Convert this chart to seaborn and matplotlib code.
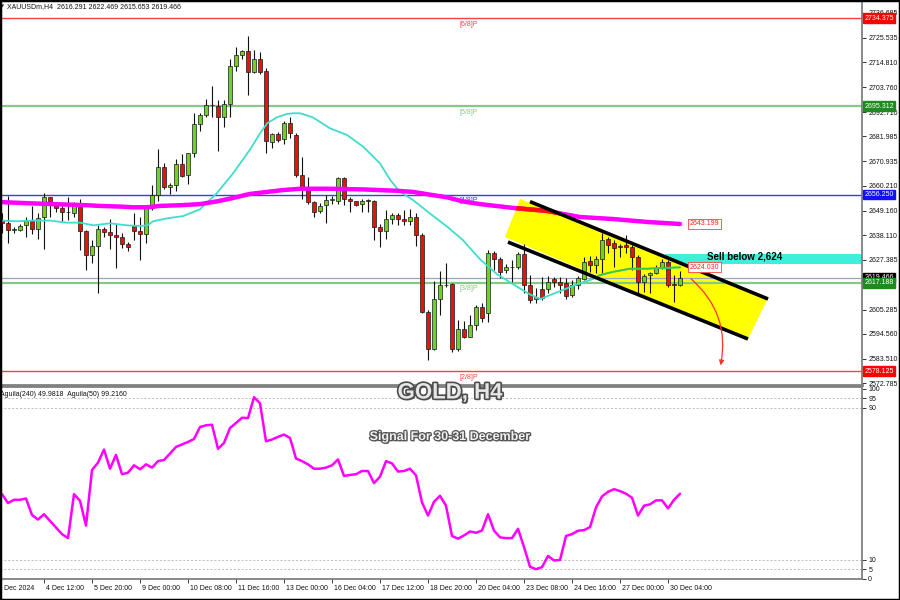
import numpy as np
import pandas as pd
import seaborn as sns
import matplotlib.pyplot as plt
import matplotlib.patheffects as pe
import matplotlib.transforms as mtransforms
from matplotlib.patches import Polygon, Rectangle, FancyArrowPatch

# H4 candles (bar 0 = leftmost visible bar)
opens = [2645.0, 2643.5, 2640.5, 2640.5, 2642.6, 2644.7, 2640.8, 2646.1, 2655.0, 2651.8,
         2650.3, 2648.5, 2648.2, 2651.8, 2639.9, 2629.6, 2633.5, 2640.8, 2639.6, 2638.5,
         2637.3, 2634.3, 2642.6, 2639.9, 2638.8, 2650.3, 2655.9, 2668.3, 2659.7, 2660.3,
         2669.8, 2664.7, 2674.5, 2687.5, 2691.6, 2695.7, 2695.4, 2690.4, 2696.3, 2713.1,
         2717.8, 2719.9, 2710.5, 2716.1, 2711.1, 2679.5, 2683.0, 2680.7, 2687.8, 2682.7,
         2664.7, 2659.4, 2652.9, 2649.1, 2651.5, 2653.8, 2653.2, 2663.5, 2654.1, 2653.2,
         2652.0, 2653.5, 2653.5, 2642.0, 2639.9, 2645.2, 2647.0, 2645.5, 2644.4, 2646.1,
         2638.2, 2604.2, 2588.0, 2610.1, 2616.0, 2616.6, 2588.0, 2596.6, 2593.3, 2598.3,
         2606.3, 2603.7, 2630.2, 2627.5, 2622.8, 2624.0, 2624.0, 2629.9, 2616.0, 2609.8,
         2614.6, 2614.6, 2619.0, 2617.5, 2616.9, 2611.6, 2616.0, 2619.0, 2626.7, 2624.9,
         2627.8, 2636.4, 2634.9, 2633.2, 2633.9, 2633.2, 2628.4, 2617.7, 2620.6, 2621.6,
         2623.7, 2626.4, 2616.6, 2616.291]
highs = [2647.9, 2655.6, 2642.0, 2643.2, 2646.4, 2651.2, 2647.9, 2657.1, 2655.3, 2652.9,
         2651.2, 2655.3, 2653.1, 2654.1, 2640.5, 2636.1, 2642.6, 2642.0, 2645.2, 2643.2,
         2639.1, 2635.2, 2647.9, 2646.1, 2650.9, 2660.3, 2676.2, 2670.3, 2661.5, 2671.8,
         2674.2, 2674.8, 2692.2, 2692.5, 2698.7, 2704.3, 2698.1, 2698.1, 2716.1, 2721.4,
         2720.2, 2726.4, 2720.2, 2719.3, 2712.1, 2683.3, 2683.9, 2688.6, 2690.4, 2683.3,
         2673.0, 2664.1, 2653.2, 2652.3, 2655.9, 2655.6, 2664.1, 2664.1, 2655.0, 2653.4,
         2654.4, 2654.1, 2653.8, 2643.2, 2649.4, 2647.9, 2647.9, 2649.4, 2649.7, 2647.9,
         2639.1, 2605.1, 2617.8, 2622.5, 2626.1, 2616.9, 2600.7, 2600.1, 2603.1, 2607.2,
         2608.1, 2631.7, 2631.4, 2628.7, 2625.5, 2627.2, 2630.9, 2634.3, 2620.5, 2614.7,
         2619.6, 2620.2, 2619.6, 2619.6, 2619.3, 2618.4, 2620.2, 2628.7, 2629.0, 2629.0,
         2639.1, 2637.6, 2636.1, 2634.3, 2638.3, 2633.9, 2629.3, 2621.1, 2621.9, 2625.0,
         2627.8, 2627.2, 2620.6, 2622.469]
lows = [2639.1, 2634.9, 2639.1, 2639.9, 2637.6, 2638.8, 2636.4, 2632.0, 2646.4, 2648.5,
        2644.4, 2645.0, 2646.4, 2631.7, 2622.8, 2625.8, 2612.5, 2637.6, 2632.3, 2623.6,
        2632.6, 2631.4, 2636.1, 2627.3, 2634.6, 2649.4, 2653.2, 2658.5, 2656.5, 2657.9,
        2664.1, 2660.9, 2673.0, 2684.5, 2690.7, 2690.4, 2675.4, 2686.3, 2690.4, 2710.8,
        2716.1, 2700.1, 2709.9, 2709.6, 2674.8, 2676.7, 2679.5, 2678.6, 2681.3, 2664.1,
        2654.1, 2652.0, 2646.1, 2647.9, 2643.5, 2652.0, 2652.0, 2651.5, 2648.5, 2651.2,
        2648.5, 2648.5, 2636.1, 2632.9, 2636.4, 2643.2, 2642.9, 2642.6, 2642.6, 2633.5,
        2603.6, 2583.0, 2587.4, 2603.1, 2615.5, 2586.5, 2586.8, 2592.7, 2593.0, 2596.3,
        2600.0, 2599.9, 2622.8, 2619.1, 2621.3, 2617.7, 2623.1, 2612.5, 2608.4, 2608.1,
        2609.5, 2612.8, 2615.5, 2612.5, 2609.8, 2611.0, 2614.6, 2618.4, 2621.9, 2621.6,
        2621.3, 2630.2, 2624.3, 2628.7, 2630.2, 2622.8, 2612.5, 2613.2, 2612.5, 2621.1,
        2623.4, 2615.5, 2608.8, 2615.653]
closes = [2643.5, 2640.5, 2640.6, 2642.3, 2644.7, 2641.1, 2645.8, 2655.0, 2651.8, 2650.3,
          2648.5, 2648.3, 2651.5, 2639.9, 2629.6, 2633.5, 2640.8, 2639.6, 2638.2, 2637.3,
          2634.3, 2632.9, 2639.9, 2638.8, 2650.3, 2655.9, 2668.3, 2659.7, 2660.3, 2669.8,
          2664.4, 2674.5, 2687.5, 2691.6, 2695.7, 2695.9, 2690.4, 2696.3, 2713.1, 2717.8,
          2719.9, 2710.5, 2716.1, 2710.5, 2679.8, 2683.0, 2680.4, 2688.0, 2683.6, 2664.7,
          2659.4, 2652.9, 2648.5, 2651.2, 2653.8, 2654.0, 2663.5, 2654.1, 2653.2, 2651.8,
          2653.5, 2653.3, 2642.0, 2639.9, 2645.2, 2647.3, 2645.5, 2644.4, 2646.1, 2638.2,
          2604.2, 2587.7, 2610.1, 2616.0, 2616.2, 2587.7, 2596.6, 2593.0, 2598.3, 2606.3,
          2601.5, 2630.2, 2627.5, 2622.1, 2624.0, 2624.2, 2629.9, 2616.2, 2609.5, 2611.0,
          2610.4, 2617.5, 2617.5, 2616.3, 2611.3, 2616.0, 2619.3, 2626.5, 2624.9, 2627.8,
          2636.1, 2633.9, 2632.4, 2633.0, 2632.9, 2628.7, 2617.7, 2620.2, 2621.6, 2623.7,
          2626.4, 2616.2, 2616.4, 2619.466]

# oscillator in the lower pane, one value per bar
aguila = [44.5, 39.8, 41.5, 41.5, 42.2, 33.5, 31.1, 33.9, 30.4, 26.9,
          23.4, 21.3, 44.5, 41.0, 27.9, 57.2, 61.1, 68.0, 57.9, 65.2,
          55.0, 55.8, 59.7, 57.6, 60.2, 58.5, 61.9, 62.5, 65.9, 69.4,
          70.7, 72.0, 73.6, 79.9, 80.8, 81.1, 68.4, 71.5, 79.4, 82.0,
          84.8, 84.6, 95.6, 92.4, 72.4, 73.3, 74.7, 75.9, 74.1, 63.3,
          61.9, 60.2, 57.9, 57.9, 58.5, 59.7, 62.8, 54.1, 54.6, 55.0,
          56.7, 56.7, 50.3, 53.7, 61.9, 60.7, 56.4, 56.7, 57.9, 54.4,
          40.1, 33.2, 40.5, 43.6, 38.4, 22.4, 21.0, 22.7, 24.8, 24.1,
          25.3, 33.9, 25.3, 21.7, 21.3, 21.3, 26.2, 16.6, 6.2, 4.9,
          6.0, 11.9, 9.5, 9.8, 22.4, 23.4, 25.2, 25.5, 27.1, 37.5,
          43.3, 45.7, 47.1, 46.1, 44.7, 42.6, 33.2, 38.4, 39.1, 41.2,
          41.2, 37.0, 41.5, 44.7]

# moving averages, points (x in bars)
fast_ma_x = [-0.33, 2.5, 5.2, 8, 10.8, 13, 15.2, 18, 20.8, 23, 24.2, 25.2, 27.5, 30.2, 33,
             35.8, 38.5, 41.3, 43, 44.2, 45.8, 47.5, 48.5, 49.7, 51.8, 54.7, 57.5, 60.2, 63,
             64.7, 66.3, 68.5, 71.3, 74.2, 76.8, 79.7, 82.5, 85.2, 88, 89.7, 93.5, 96.3, 98.5,
             99.7, 101.8, 104.7, 107.5, 109.7, 113]
fast_ma_y = [2644.7, 2644.4, 2644.7, 2644.7, 2643.8, 2643.8, 2642.6, 2643.5, 2642.6, 2642.3,
             2642.6, 2644.4, 2645.7, 2646.7, 2649.7, 2656.8, 2665.6, 2676.0, 2683.3, 2687.8,
             2690.4, 2691.9, 2692.2, 2692.2, 2690.4, 2685.5, 2682.6, 2677.4, 2670.0, 2662.7,
             2657.5, 2653.8, 2647.9, 2642.0, 2636.1, 2627.5, 2621.0, 2616.5, 2612.0, 2610.0,
             2614.0, 2617.0, 2618.8, 2620.6, 2622.0, 2623.4, 2623.4, 2623.7, 2624.0]
slow_ma_x = [-0.33, 5.2, 10.8, 14.2, 16.3, 19.7, 21.8, 24.2, 26.3, 29.7, 33, 35.8, 38.5, 41.3,
             44.2, 46.8, 49.7, 54.7, 60.2, 63, 65.8, 68.5, 71.3, 74.2, 76.8, 79.7, 85.2, 90.8,
             96.3, 101.8, 107.5, 113]
slow_ma_y = [2652.9, 2652.3, 2651.8, 2651.5, 2651.2, 2650.9, 2650.6, 2650.6, 2651.2, 2651.5,
             2652.0, 2653.2, 2654.7, 2656.5, 2657.4, 2658.2, 2658.8, 2658.8, 2658.5, 2658.2,
             2657.9, 2657.4, 2656.2, 2655.0, 2653.2, 2652.0, 2650.3, 2649.0, 2646.3, 2645.4,
             2644.1, 2643.2]

# Murrey math levels
murrey_levels = [2734.375, 2695.312, 2656.25, 2617.188, 2578.125]
murrey_names = ["[6/8]P", "[5/8]P", "[4/8]P", "[3/8]P", "[2/8]P"]
murrey_colors = ["#ff4040", "#86c886", "#3a3aff", "#86c886", "#ff4040"]
murrey_box = ["#ff0000", "#1f8a1f", "#1010ff", "#1f8a1f", "#ff0000"]
bid_price = 2619.466

price_ticks = [2736.685, 2725.535, 2714.810, 2703.760, 2692.710, 2681.985, 2670.935, 2660.210,
               2649.160, 2638.110, 2627.385, 2616.360, 2605.285, 2594.560, 2583.510, 2572.785]
hidden_ticks = [2616.360]  # covered by the price tags in the reference
osc_ticks = [0, 5, 10, 90, 95, 100]

time_pos = [-1, 7, 15, 23, 31, 39, 47, 55, 63, 71, 79, 87, 95, 103, 111]
time_labels = ["3 Dec 2024", "4 Dec 12:00", "5 Dec 20:00", "9 Dec 00:00", "10 Dec 08:00",
               "11 Dec 16:00", "13 Dec 00:00", "16 Dec 04:00", "17 Dec 12:00", "18 Dec 20:00",
               "20 Dec 04:00", "23 Dec 08:00", "24 Dec 16:00", "27 Dec 00:00", "30 Dec 04:00"]

# hand-drawn channel objects (bars, price)
channel_x = [86.33, 127.5, 124.33, 83.83]
channel_y = [2654.3, 2609.6, 2592.3, 2637.4]
upper_x, upper_y = [88.0, 127.67], [2653.1, 2610.0]
lower_x, lower_y = [84.33, 124.33], [2635.2, 2592.3]
sell_zone = [110.5, 2625.5, 2629.9]
arrow_from, arrow_to = (114.5, 2619.7), (119.67, 2579.4)


def main():
    sns.set_theme(style="white")
    plt.rcParams['font.family'] = ['Liberation Sans', 'DejaVu Sans']

    df = pd.DataFrame({"open": opens, "high": highs, "low": lows, "close": closes})
    df["bar"] = np.arange(len(df))
    df["up"] = df["close"] >= df["open"]

    fig = plt.figure(figsize=(9, 6), dpi=100)
    fig.patch.set_facecolor("white")
    ax = fig.add_axes([0.0, 1 - 384.5 / 600, 862 / 900, 382.5 / 600])
    ax2 = fig.add_axes([0.0, 1 - 578.5 / 600, 862 / 900, 191.5 / 600], sharex=ax)
    xmax = 143.33

    # --- price pane ---
    chan = Polygon(np.column_stack([channel_x, channel_y]), closed=True,
                   fc="#ffff00", ec="none", zorder=1)
    ax.add_patch(chan)
    ax.add_patch(Rectangle((sell_zone[0], sell_zone[1]), xmax - sell_zone[0],
                           sell_zone[2] - sell_zone[1], fc="#3ef0dc", ec="none", zorder=0.9))

    for lvl, name, col in zip(murrey_levels, murrey_names, murrey_colors):
        ax.axhline(lvl, color=col, lw=1.6 if col == "#86c886" else 1.0, zorder=1.5)
        ax.text(76.33, lvl - 2.7, name, color=col, fontsize=5, ha="left", va="center", zorder=2)
    ax.axhline(bid_price, color="#9aa5b8", lw=0.9, zorder=1.5)

    ax.vlines(df["bar"], df["low"], df["high"], color="#111111", lw=0.8, zorder=3)
    body_lo = df[["open", "close"]].min(axis=1)
    body_h = (df["close"] - df["open"]).abs().clip(lower=0.35)
    colors = np.where(df["up"], "#72d021", "#e8120c")
    ax.bar(df["bar"], body_h, bottom=body_lo, width=0.62, color=colors,
           edgecolor="#1a1a1a", linewidth=0.5, zorder=4)

    sns.lineplot(x=fast_ma_x, y=fast_ma_y, ax=ax, color="#40dccd", lw=1.3, zorder=5)
    sns.lineplot(x=slow_ma_x, y=slow_ma_y, ax=ax, color="#ff00ff", lw=3.2, zorder=5)
    # yellow box tints the lines beneath it
    for xs, ys, col, w in [(slow_ma_x, slow_ma_y, "#ff1010", 3.2),
                           (fast_ma_x, fast_ma_y, "#3cc83c", 1.3)]:
        ln, = ax.plot(xs, ys, color=col, lw=w, zorder=5.2)
        ln.set_clip_path(chan)

    ax.plot(upper_x, upper_y, color="black", lw=2.6, solid_capstyle="butt", zorder=6)
    ax.plot(lower_x, lower_y, color="black", lw=2.6, solid_capstyle="butt", zorder=6)

    ax.add_patch(FancyArrowPatch(arrow_from, arrow_to, connectionstyle="arc3,rad=-0.3",
                                 arrowstyle="-|>", mutation_scale=7, color="#ff3030",
                                 lw=0.9, zorder=6))

    ax.text(117.5, 2629.0, "Sell below 2,624", fontsize=7, fontweight="bold",
            color="black", ha="left", va="center", zorder=7)
    for lab in ("2643.199", "2624.030"):
        ax.text(114.6, float(lab), lab, fontsize=5, color="#ff2020", ha="left", va="center",
                zorder=7, bbox=dict(boxstyle="square,pad=0.2", fc="white", ec="#ff4040", lw=0.6))

    # price tags on the right scale
    trans = mtransforms.blended_transform_factory(ax.transAxes, ax.transData)
    ax.text(1.0025, bid_price, f"{bid_price:.3f}", transform=trans, fontsize=5, color="white",
            ha="left", va="center", clip_on=False, zorder=8,
            bbox=dict(boxstyle="square,pad=0.2", fc="#000000", ec="#000000"))
    for lvl, col in zip(murrey_levels, murrey_box):
        ax.text(1.0025, lvl, f"{lvl:.3f}", transform=trans, fontsize=5, color="white",
                ha="left", va="center", clip_on=False, zorder=9,
                bbox=dict(boxstyle="square,pad=0.2", fc=col, ec=col))

    ax.set_xlim(-0.333, xmax)
    ax.set_ylim(2572.15, 2741.46)
    ax.yaxis.tick_right()
    ax.set_yticks(price_ticks)
    ax.set_yticklabels(["" if v in hidden_ticks else f"{v:.3f}" for v in price_ticks])
    ax.tick_params(axis="y", direction="out", length=3, width=0.7, pad=1.5,
                   labelsize=5, color="#333333", labelcolor="#111111", right=True, left=False)
    ax.tick_params(axis="x", bottom=False, labelbottom=False)
    ax.set_xlabel("")
    ax.set_ylabel("")
    for side in ["top", "left"]:
        ax.spines[side].set_visible(False)
    ax.spines["right"].set_color("#808080")
    ax.spines["right"].set_linewidth(1.3)
    ax.spines["bottom"].set_color("#808080")
    ax.spines["bottom"].set_linewidth(2)

    # --- oscillator pane ---
    for lvl in (95, 90, 10, 5):
        ax2.axhline(lvl, color="#bdbdbd", lw=0.7, ls=(0, (2, 2)), zorder=1)
    sns.lineplot(x=df["bar"], y=aguila, ax=ax2, color="#ff00ff", lw=1.8, zorder=3)
    ax2.set_ylim(0.85, 101.0)
    ax2.yaxis.tick_right()
    ax2.set_yticks(osc_ticks)
    ax2.set_yticklabels([str(v) for v in osc_ticks])
    ax2.tick_params(axis="y", direction="out", length=3, width=0.7, pad=1.5,
                    labelsize=5, color="#333333", labelcolor="#111111", right=True, left=False)
    ax2.set_xticks(time_pos[1:])
    ax2.set_xticklabels([])
    ax2.tick_params(axis="x", direction="out", length=3, width=0.7, color="#444444",
                    bottom=True, labelbottom=False)
    ax2.set_xlim(-0.333, xmax)
    ax2.set_xlabel("")
    ax2.set_ylabel("")
    xtrans = mtransforms.blended_transform_factory(ax2.transData, ax2.transAxes)
    for pos, lab in zip(time_pos, time_labels):
        ax2.text(pos + 0.3, -0.05, lab, transform=xtrans, fontsize=5, color="#111111",
                 ha="left", va="center", clip_on=False)
    ax2.spines["left"].set_visible(False)
    for side in ["top", "right", "bottom"]:
        ax2.spines[side].set_color("#808080")
        ax2.spines[side].set_linewidth(1.3)

    # --- header and watermark texts ---
    fig.text(1 / 900, 1 - 7 / 600, "\u25bc", fontsize=3, color="#333333", va="center",
             family=["DejaVu Sans"])
    fig.text(7 / 900, 1 - 7 / 600, "XAUUSDm,H4  2616.291 2622.469 2615.653 2619.466",
             fontsize=5, color="#111111", va="center")
    fig.text(0.5 / 900, 1 - 395 / 600, "Aguila(240) 49.9818  Aguila(50) 99.2160",
             fontsize=5, color="#111111", va="center")

    fx = [pe.SimplePatchShadow(offset=(1.2, -1.2), shadow_rgbFace="#222222", alpha=0.6),
          pe.Stroke(linewidth=2.4, foreground="#4d4d4d"), pe.Normal()]
    fig.text(450 / 900, 1 - 393 / 600, "GOLD, H4", fontsize=16, fontweight="bold",
             color="#e6e6e6", ha="center", va="center", path_effects=fx)
    fx2 = [pe.SimplePatchShadow(offset=(1, -1), shadow_rgbFace="#222222", alpha=0.6),
           pe.Stroke(linewidth=1.8, foreground="#555555"), pe.Normal()]
    fig.text(450 / 900, 1 - 437 / 600, "Signal For 30-31 December", fontsize=9,
             fontweight="bold", color="#f2f2f2", ha="center", va="center", path_effects=fx2)

    fig.add_artist(Rectangle((0, 0), 1, 1, transform=fig.transFigure, fill=False,
                             ec="black", lw=2.5, zorder=100))

    fig.savefig("out.png", dpi=100)


if __name__ == "__main__":
    main()
